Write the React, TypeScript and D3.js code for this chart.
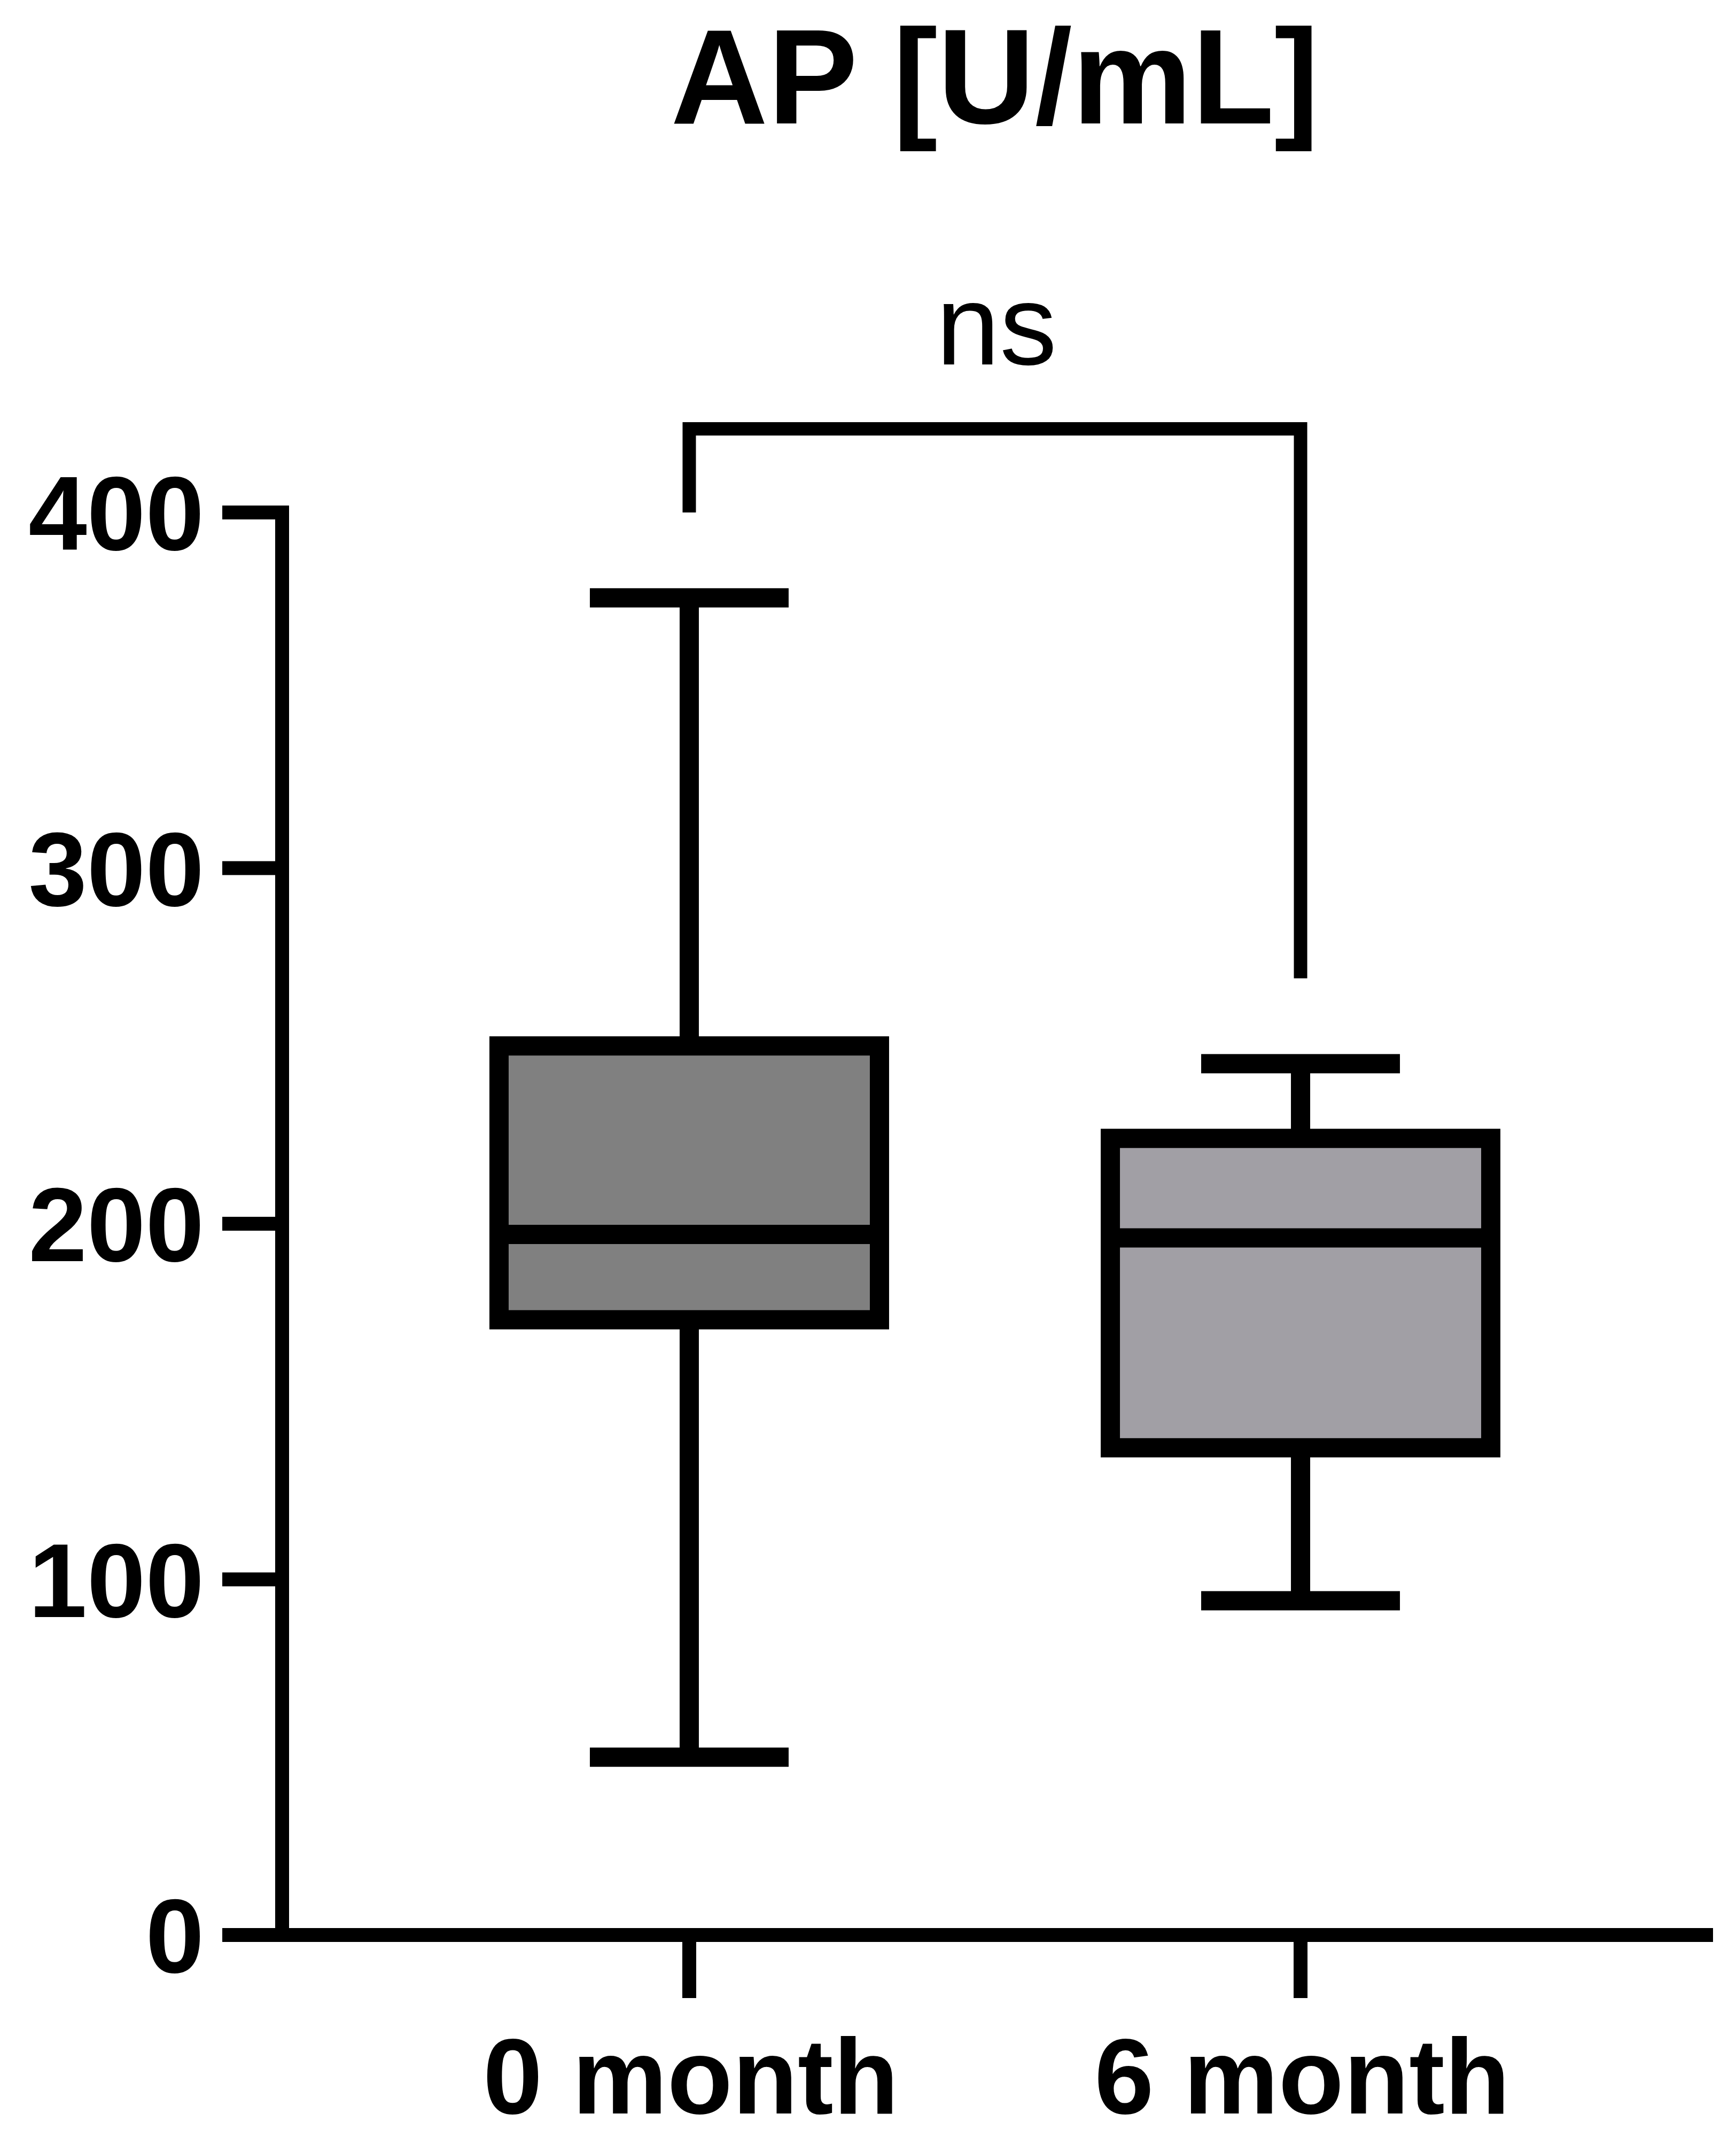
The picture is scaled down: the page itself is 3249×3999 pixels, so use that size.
import React from "react";
import * as d3 from "d3";

const categories = ["0 month", "6 month"];
const whiskerLow = [50, 94];
const q1 = [173, 137];
const median = [197, 196];
const q3 = [250, 224];
const whiskerHigh = [376, 245];
const boxFills = ["#808080", "#a19fa5"];
const yTicks = [0, 100, 200, 300, 400];
const titleText = "AP [U/mL]";
const sigText = "ns";
const bracketTop = 423.5;
const bracketLeftEnd = 400;
const bracketRightEnd = 269;

const W = 3249;
const H = 3999;
const FONT = "'Liberation Sans', Arial, Helvetica, sans-serif";

export default function App() {
  const y = d3.scaleLinear().domain([0, 400]).range([3621, 959]);
  const x = d3.scalePoint<string>().domain(categories).range([528, 3196]).padding(0.666);

  const axisX = 528;
  const axisW = 26;
  const boxStroke = 36;
  const boxHalf = 356;
  const capHalf = 186;
  const mid = ((x(categories[0]) as number) + (x(categories[1]) as number)) / 2;

  return (
    <svg
      width={W}
      height={H}
      viewBox={`0 0 ${W} ${H}`}
      style={{ position: "absolute", left: 0, top: 0, background: "#fff" }}
    >
      <rect x={0} y={0} width={W} height={H} fill="#fff" />
      {/* title */}
      <text
        x={mid}
        y={231}
        textAnchor="middle"
        fontFamily={FONT}
        fontWeight="bold"
        fontSize={252}
        fill="#000"
      >
        {titleText}
      </text>

      {/* significance bracket */}
      <path
        d={`M${x(categories[0])},${y(bracketLeftEnd)} V${y(bracketTop)} H${x(categories[1])} V${y(bracketRightEnd)}`}
        fill="none"
        stroke="#000"
        strokeWidth={25}
        strokeLinejoin="miter"
        strokeLinecap="butt"
      />
      <text
        x={mid + 3}
        y={682}
        textAnchor="middle"
        fontFamily={FONT}
        fontSize={214}
        fill="#000"
      >
        {sigText}
      </text>

      {/* y axis */}
      <line x1={axisX} x2={axisX} y1={y(400) - axisW / 2} y2={y(0) + axisW / 2} stroke="#000" strokeWidth={axisW} />
      {yTicks.map((t) => (
        <g key={t}>
          <line x1={416} x2={axisX} y1={y(t)} y2={y(t)} stroke="#000" strokeWidth={axisW} />
          <text
            x={382}
            y={y(t) + 70}
            textAnchor="end"
            fontFamily={FONT}
            fontWeight="bold"
            fontSize={197}
            fill="#000"
          >
            {t}
          </text>
        </g>
      ))}

      {/* x axis */}
      <line x1={416} x2={3206} y1={y(0)} y2={y(0)} stroke="#000" strokeWidth={axisW} />
      {categories.map((c) => (
        <g key={c}>
          <line x1={x(c)} x2={x(c)} y1={y(0)} y2={3739} stroke="#000" strokeWidth={axisW} />
          <text
            x={(x(c) as number) + 3}
            y={3955}
            textAnchor="middle"
            fontFamily={FONT}
            fontWeight="bold"
            fontSize={200}
            fill="#000"
          >
            {c}
          </text>
        </g>
      ))}

      {/* boxes */}
      {categories.map((c, i) => {
        const cx = x(c) as number;
        return (
          <g key={"box" + c}>
            <line x1={cx} x2={cx} y1={y(whiskerHigh[i])} y2={y(q3[i])} stroke="#000" strokeWidth={boxStroke} />
            <line x1={cx} x2={cx} y1={y(q1[i])} y2={y(whiskerLow[i])} stroke="#000" strokeWidth={boxStroke} />
            <line x1={cx - capHalf} x2={cx + capHalf} y1={y(whiskerHigh[i])} y2={y(whiskerHigh[i])} stroke="#000" strokeWidth={boxStroke} />
            <line x1={cx - capHalf} x2={cx + capHalf} y1={y(whiskerLow[i])} y2={y(whiskerLow[i])} stroke="#000" strokeWidth={boxStroke} />
            <rect
              x={cx - boxHalf}
              y={y(q3[i])}
              width={boxHalf * 2}
              height={y(q1[i]) - y(q3[i])}
              fill={boxFills[i]}
              stroke="#000"
              strokeWidth={boxStroke}
            />
            <line x1={cx - boxHalf} x2={cx + boxHalf} y1={y(median[i])} y2={y(median[i])} stroke="#000" strokeWidth={boxStroke} />
          </g>
        );
      })}
    </svg>
  );
}
